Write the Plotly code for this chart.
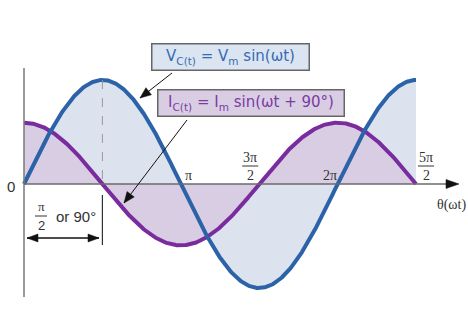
import numpy as np
import plotly.graph_objects as go

# ---- data ----
Vm = 1.0            # voltage amplitude
Im = 0.59           # current amplitude
phase_deg = 90      # current leads voltage by 90 degrees
theta_end = 2.5 * np.pi
tick_vals = [np.pi, 1.5 * np.pi, 2 * np.pi, 2.5 * np.pi]
tick_num = ["π", "3π", "2π", "5π"]
tick_den = [None, "2", None, "2"]

W, H = 468, 320
X0, Y0 = 24, 184            # pixel position of origin
KX = 392 / theta_end        # px per radian
KY = 104 / Vm               # px per unit

def X(p):  # pixel -> data x
    return (p - X0) / KX

def Y(p):  # pixel -> data y
    return (Y0 - p) / KY

theta = np.linspace(0, theta_end, 600)
v = Vm * np.sin(theta)
i = Im * np.sin(theta + np.radians(phase_deg))

BLUE = "#2b62a8"
BLUE_F = "#dce3ee"
PURP = "#7a2c9e"
PURP_F = "#d8cde2"

fig = go.Figure()
fig.add_trace(go.Scatter(x=theta, y=v, mode="lines", line=dict(width=0, color=BLUE),
                         fill="tozeroy", fillcolor=BLUE_F, hoverinfo="skip"))
fig.add_trace(go.Scatter(x=theta, y=i, mode="lines", line=dict(width=0, color=PURP),
                         fill="tozeroy", fillcolor=PURP_F, hoverinfo="skip"))
fig.add_trace(go.Scatter(x=theta, y=i, mode="lines", line=dict(width=4, color=PURP)))
fig.add_trace(go.Scatter(x=theta, y=v, mode="lines", line=dict(width=4, color=BLUE)))

shapes = []

def seg(x0, y0, x1, y1, color, width, dash=None):
    ln = dict(color=color, width=width)
    if dash:
        ln["dash"] = dash
    shapes.append(dict(type="line", x0=X(x0), x1=X(x1), y0=Y(y0), y1=Y(y1),
                       xref="x", yref="y", line=ln))

def head(tx, ty, fx, fy, length, half, color="#111111"):
    # triangle arrow head with tip (tx,ty), pointing away from (fx,fy); pixel coords
    dx, dy = tx - fx, ty - fy
    n = (dx * dx + dy * dy) ** 0.5
    ux, uy = dx / n, dy / n
    bx, by = tx - ux * length, ty - uy * length
    px_, py_ = -uy * half, ux * half
    pts = [(tx, ty), (bx + px_, by + py_), (bx - px_, by - py_)]
    path = "M " + " L ".join(f"{X(a):.5f},{Y(b):.5f}" for a, b in pts) + " Z"
    shapes.append(dict(type="path", path=path, xref="x", yref="y",
                       fillcolor=color, line=dict(color=color, width=0.5)))

def arrow(fx, fy, tx, ty, length=10, half=4, width=1, both=False):
    seg(fx, fy, tx, ty, "#111111", width)
    head(tx, ty, fx, fy, length, half)
    if both:
        head(fx, fy, tx, ty, length, half)

# vertical axis
seg(24, 68, 24, 297, "#7a7a7a", 1.5)
# horizontal axis with arrow head
seg(24, 184, 448, 184, "#6a6a6a", 1.5)
head(459, 184, 24, 184, 13, 4.5)
# dashed line at peak (data coords)
shapes.append(dict(type="line", x0=np.pi / 2, x1=np.pi / 2, y0=Vm, y1=0,
                   line=dict(color="#9a9a9a", width=1, dash="dash")))
# marker at pi/2 below axis
shapes.append(dict(type="line", x0=np.pi / 2, x1=np.pi / 2, y0=Y(195), y1=Y(245),
                   line=dict(color="#333333", width=1.2)))
# double arrow
arrow(27, 238, 99, 238, length=11, half=4, width=1.3, both=True)
# pointer arrows
arrow(172, 73, 140, 98, length=11, half=4.5, width=1)
arrow(187, 120, 124, 203, length=11, half=4.5, width=1)

ann = []
serif = "Liberation Serif"
sans = "Liberation Sans"
# tick labels
shifts = [8, -9, -8, 10]
for tv, num, den, sh in zip(tick_vals, tick_num, tick_den, shifts):
    cx = tv + sh / KX
    if den is None:
        ann.append(dict(x=cx, y=Y(175), text=num, showarrow=False,
                        font=dict(family=serif, size=14, color="#333333")))
    else:
        ann.append(dict(x=cx, y=Y(157), text=num, showarrow=False,
                        font=dict(family=serif, size=14, color="#333333")))
        ann.append(dict(x=cx, y=Y(175), text=den, showarrow=False,
                        font=dict(family=serif, size=14, color="#333333")))
        shapes.append(dict(type="line", x0=cx - 8 / KX, x1=cx + 8 / KX, y0=Y(166), y1=Y(166),
                           line=dict(color="#333333", width=1)))

ann.append(dict(x=X(11), y=Y(186), text="0", showarrow=False,
                font=dict(family=sans, size=15, color="#333333")))
ann.append(dict(x=X(451), y=Y(205), text="θ(ωt)", showarrow=False,
                font=dict(family=serif, size=14, color="#333333")))
# pi/2 or 90
ann.append(dict(x=X(41), y=Y(206), text="π", showarrow=False,
                font=dict(family=serif, size=13, color="#333333")))
ann.append(dict(x=X(41), y=Y(225), text="2", showarrow=False,
                font=dict(family=sans, size=13, color="#333333")))
shapes.append(dict(type="line", x0=X(35), x1=X(47), y0=Y(216), y1=Y(216),
                   line=dict(color="#333333", width=1)))
ann.append(dict(x=X(54), y=Y(216), text="or 90°", showarrow=False, xanchor="left",
                font=dict(family=sans, size=15, color="#333333")))

# label boxes
ann.append(dict(x=X(230), y=Y(57), text="V<sub>C(t)</sub> = V<sub>m</sub> sin(ωt)", showarrow=False,
                font=dict(family="DejaVu Sans", size=15, color="#3a6ab3"),
                bgcolor="#dbe4f1", bordercolor="#666666", borderwidth=1.5, borderpad=2,
                width=152, height=21))
ann.append(dict(x=X(251), y=Y(103), text="I<sub>C(t)</sub> = I<sub>m</sub> sin(ωt + 90°)", showarrow=False,
                font=dict(family="DejaVu Sans", size=15, color="#7b3ca0"),
                bgcolor="#d9cde4", bordercolor="#666666", borderwidth=1.5, borderpad=2,
                width=181, height=21))

fig.update_layout(
    width=W, height=H, margin=dict(l=0, r=0, t=0, b=0),
    paper_bgcolor="white", plot_bgcolor="white", showlegend=False,
    xaxis=dict(range=[X(0), X(W)], visible=False, fixedrange=True),
    yaxis=dict(range=[Y(H), Y(0)], visible=False, fixedrange=True),
    shapes=shapes, annotations=ann,
)
fig.write_html("out.html")
